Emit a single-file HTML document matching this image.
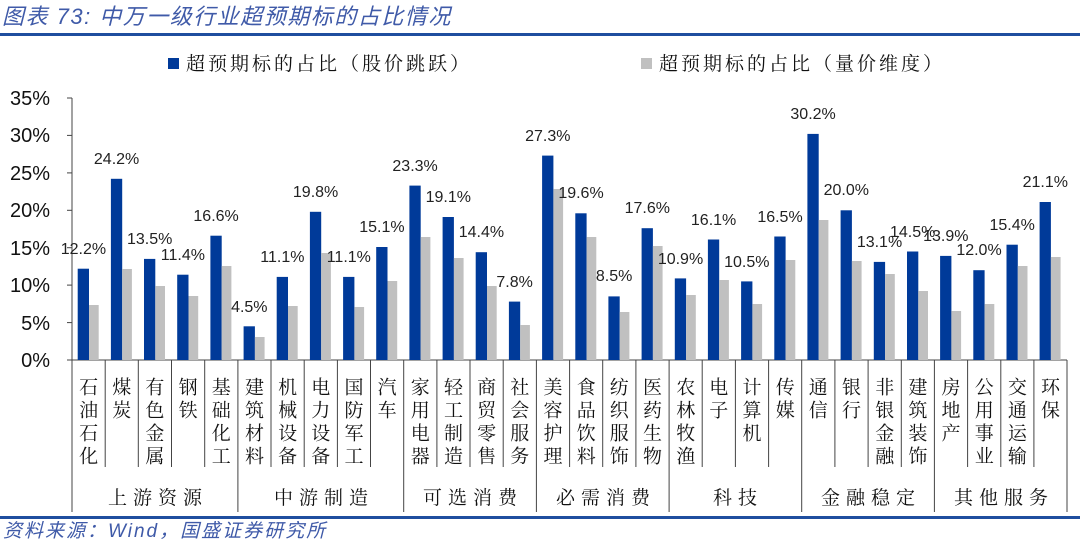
<!DOCTYPE html>
<html><head><meta charset="utf-8"><style>
html,body{margin:0;padding:0;background:#fff;}
svg{display:block;}
.t{font-family:"Liberation Sans","Noto Sans CJK SC",sans-serif;}
.v{font-family:"Liberation Sans",sans-serif;font-size:16px;fill:#222;text-anchor:middle;}
.c{font-family:"Noto Serif CJK SC","Liberation Serif",serif;font-size:19px;fill:#111;writing-mode:vertical-rl;letter-spacing:4px;}
.g{font-family:"Noto Serif CJK SC","Liberation Serif",serif;font-size:19px;fill:#111;text-anchor:middle;letter-spacing:6px;}
.y{font-family:"Liberation Sans",sans-serif;font-size:20px;fill:#111;text-anchor:end;}
</style></head><body>
<svg width="1080" height="544" viewBox="0 0 1080 544" xmlns="http://www.w3.org/2000/svg">
<text x="2" y="24" class="t" font-size="22" font-style="italic" fill="#3f5aa8" letter-spacing="1.5">图表 73:  中万一级行业超预期标的占比情况</text>
<rect x="0" y="33" width="1080" height="3" fill="#1f4e9f"/>
<rect x="0" y="516" width="1080" height="3" fill="#1f4e9f"/>
<text x="3" y="537" class="t" font-size="19" font-style="italic" fill="#3f5aa8" letter-spacing="2">资料来源：Wind，国盛证券研究所</text>
<rect x="168" y="58" width="11" height="11" fill="#003a99"/>
<text x="186" y="70" class="g" style="text-anchor:start;letter-spacing:3px" font-size="20">超预期标的占比（股价跳跃）</text>
<rect x="641" y="58" width="11" height="11" fill="#c0c0c0"/>
<text x="659" y="70" class="g" style="text-anchor:start;letter-spacing:3px" font-size="20">超预期标的占比（量价维度）</text>
<g stroke="#444" stroke-width="1">
<line x1="72" y1="98" x2="72" y2="512"/>
<line x1="67" y1="98" x2="72" y2="98"/><line x1="67" y1="135.4" x2="72" y2="135.4"/><line x1="67" y1="172.9" x2="72" y2="172.9"/><line x1="67" y1="210.3" x2="72" y2="210.3"/><line x1="67" y1="247.7" x2="72" y2="247.7"/><line x1="67" y1="285.1" x2="72" y2="285.1"/><line x1="67" y1="322.6" x2="72" y2="322.6"/><line x1="67" y1="360" x2="72" y2="360"/>
<line x1="72" y1="360" x2="1067" y2="360"/>
<line x1="1067" y1="360" x2="1067" y2="512"/>
</g>
<g class="y">
<text x="50" y="105">35%</text><text x="50" y="142">30%</text><text x="50" y="180">25%</text><text x="50" y="217">20%</text><text x="50" y="255">15%</text><text x="50" y="292">10%</text><text x="50" y="330">5%</text><text x="50" y="367">0%</text>
</g>
<g fill="#003a99">
<rect x="77.7" y="268.7" width="11.3" height="91.3"/>
<rect x="110.9" y="178.8" width="11.3" height="181.2"/>
<rect x="144.0" y="258.9" width="11.3" height="101.1"/>
<rect x="177.2" y="274.7" width="11.3" height="85.3"/>
<rect x="210.4" y="235.7" width="11.3" height="124.3"/>
<rect x="243.6" y="326.3" width="11.3" height="33.7"/>
<rect x="276.7" y="276.9" width="11.3" height="83.1"/>
<rect x="309.9" y="211.8" width="11.3" height="148.2"/>
<rect x="343.1" y="276.9" width="11.3" height="83.1"/>
<rect x="376.2" y="247.0" width="11.3" height="113.0"/>
<rect x="409.4" y="185.6" width="11.3" height="174.4"/>
<rect x="442.6" y="217.0" width="11.3" height="143.0"/>
<rect x="475.7" y="252.2" width="11.3" height="107.8"/>
<rect x="508.9" y="301.6" width="11.3" height="58.4"/>
<rect x="542.1" y="155.6" width="11.3" height="204.4"/>
<rect x="575.3" y="213.3" width="11.3" height="146.7"/>
<rect x="608.4" y="296.4" width="11.3" height="63.6"/>
<rect x="641.6" y="228.2" width="11.3" height="131.8"/>
<rect x="674.8" y="278.4" width="11.3" height="81.6"/>
<rect x="707.9" y="239.5" width="11.3" height="120.5"/>
<rect x="741.1" y="281.4" width="11.3" height="78.6"/>
<rect x="774.3" y="236.5" width="11.3" height="123.5"/>
<rect x="807.4" y="133.9" width="11.3" height="226.1"/>
<rect x="840.6" y="210.3" width="11.3" height="149.7"/>
<rect x="873.8" y="261.9" width="11.3" height="98.1"/>
<rect x="907.0" y="251.5" width="11.3" height="108.5"/>
<rect x="940.1" y="255.9" width="11.3" height="104.1"/>
<rect x="973.3" y="270.2" width="11.3" height="89.8"/>
<rect x="1006.5" y="244.7" width="11.3" height="115.3"/>
<rect x="1039.6" y="202.0" width="11.3" height="158.0"/>
</g>
<g fill="#c0c0c0">
<rect x="89" y="305" width="9.7" height="55"/>
<rect x="122.2" y="269" width="9.7" height="91"/>
<rect x="155.3" y="286" width="9.7" height="74"/>
<rect x="188.5" y="296" width="9.7" height="64"/>
<rect x="221.7" y="266" width="9.7" height="94"/>
<rect x="254.9" y="337" width="9.7" height="23"/>
<rect x="288.0" y="306" width="9.7" height="54"/>
<rect x="321.2" y="253" width="9.7" height="107"/>
<rect x="354.4" y="307" width="9.7" height="53"/>
<rect x="387.5" y="281" width="9.7" height="79"/>
<rect x="420.7" y="237" width="9.7" height="123"/>
<rect x="453.9" y="258" width="9.7" height="102"/>
<rect x="487.0" y="286" width="9.7" height="74"/>
<rect x="520.2" y="325" width="9.7" height="35"/>
<rect x="553.4" y="189" width="9.7" height="171"/>
<rect x="586.6" y="237" width="9.7" height="123"/>
<rect x="619.7" y="312" width="9.7" height="48"/>
<rect x="652.9" y="246" width="9.7" height="114"/>
<rect x="686.1" y="295" width="9.7" height="65"/>
<rect x="719.2" y="280" width="9.7" height="80"/>
<rect x="752.4" y="304" width="9.7" height="56"/>
<rect x="785.6" y="260" width="9.7" height="100"/>
<rect x="818.7" y="220" width="9.7" height="140"/>
<rect x="851.9" y="261" width="9.7" height="99"/>
<rect x="885.1" y="274" width="9.7" height="86"/>
<rect x="918.3" y="291" width="9.7" height="69"/>
<rect x="951.4" y="311" width="9.7" height="49"/>
<rect x="984.6" y="304" width="9.7" height="56"/>
<rect x="1017.8" y="266" width="9.7" height="94"/>
<rect x="1050.9" y="257" width="9.7" height="103"/>
</g>
<g class="v">
<text x="83.4" y="254">12.2%</text>
<text x="116.6" y="164">24.2%</text>
<text x="149.7" y="244">13.5%</text>
<text x="182.9" y="260">11.4%</text>
<text x="216.1" y="221">16.6%</text>
<text x="249.3" y="312">4.5%</text>
<text x="282.4" y="262">11.1%</text>
<text x="315.6" y="197">19.8%</text>
<text x="348.8" y="262">11.1%</text>
<text x="381.9" y="232">15.1%</text>
<text x="415.1" y="171">23.3%</text>
<text x="448.3" y="202">19.1%</text>
<text x="481.4" y="237">14.4%</text>
<text x="514.6" y="287">7.8%</text>
<text x="547.8" y="141">27.3%</text>
<text x="581.0" y="198">19.6%</text>
<text x="614.1" y="281">8.5%</text>
<text x="647.3" y="213">17.6%</text>
<text x="680.5" y="264">10.9%</text>
<text x="713.6" y="225">16.1%</text>
<text x="746.8" y="267">10.5%</text>
<text x="780.0" y="222">16.5%</text>
<text x="813.1" y="119">30.2%</text>
<text x="846.3" y="195">20.0%</text>
<text x="879.5" y="247">13.1%</text>
<text x="912.7" y="237">14.5%</text>
<text x="945.8" y="241">13.9%</text>
<text x="979.0" y="255">12.0%</text>
<text x="1012.2" y="230">15.4%</text>
<text x="1045.3" y="187">21.1%</text>
</g>
<g stroke="#444" stroke-width="1">
<line x1="105.2" y1="360" x2="105.2" y2="467"/><line x1="138.3" y1="360" x2="138.3" y2="467"/><line x1="171.5" y1="360" x2="171.5" y2="467"/><line x1="204.7" y1="360" x2="204.7" y2="467"/>
<line x1="237.9" y1="360" x2="237.9" y2="512"/>
<line x1="271.0" y1="360" x2="271.0" y2="467"/><line x1="304.2" y1="360" x2="304.2" y2="467"/><line x1="337.4" y1="360" x2="337.4" y2="467"/><line x1="370.5" y1="360" x2="370.5" y2="467"/>
<line x1="403.7" y1="360" x2="403.7" y2="512"/>
<line x1="436.9" y1="360" x2="436.9" y2="467"/><line x1="470.0" y1="360" x2="470.0" y2="467"/><line x1="503.2" y1="360" x2="503.2" y2="467"/>
<line x1="536.4" y1="360" x2="536.4" y2="512"/>
<line x1="569.6" y1="360" x2="569.6" y2="467"/><line x1="602.7" y1="360" x2="602.7" y2="467"/><line x1="635.9" y1="360" x2="635.9" y2="467"/>
<line x1="669.1" y1="360" x2="669.1" y2="512"/>
<line x1="702.2" y1="360" x2="702.2" y2="467"/><line x1="735.4" y1="360" x2="735.4" y2="467"/><line x1="768.6" y1="360" x2="768.6" y2="467"/>
<line x1="801.7" y1="360" x2="801.7" y2="512"/>
<line x1="834.9" y1="360" x2="834.9" y2="467"/><line x1="868.1" y1="360" x2="868.1" y2="467"/><line x1="901.3" y1="360" x2="901.3" y2="467"/>
<line x1="934.4" y1="360" x2="934.4" y2="512"/>
<line x1="967.6" y1="360" x2="967.6" y2="467"/><line x1="1000.8" y1="360" x2="1000.8" y2="467"/><line x1="1033.9" y1="360" x2="1033.9" y2="467"/>
</g>
<g class="c">
<text x="88.6" y="377">石油石化</text>
<text x="121.8" y="377">煤炭</text>
<text x="154.9" y="377">有色金属</text>
<text x="188.1" y="377">钢铁</text>
<text x="221.3" y="377">基础化工</text>
<text x="254.5" y="377">建筑材料</text>
<text x="287.6" y="377">机械设备</text>
<text x="320.8" y="377">电力设备</text>
<text x="354.0" y="377">国防军工</text>
<text x="387.1" y="377">汽车</text>
<text x="420.3" y="377">家用电器</text>
<text x="453.5" y="377">轻工制造</text>
<text x="486.6" y="377">商贸零售</text>
<text x="519.8" y="377">社会服务</text>
<text x="553.0" y="377">美容护理</text>
<text x="586.2" y="377">食品饮料</text>
<text x="619.3" y="377">纺织服饰</text>
<text x="652.5" y="377">医药生物</text>
<text x="685.7" y="377">农林牧渔</text>
<text x="718.8" y="377">电子</text>
<text x="752.0" y="377">计算机</text>
<text x="785.2" y="377">传媒</text>
<text x="818.3" y="377">通信</text>
<text x="851.5" y="377">银行</text>
<text x="884.7" y="377">非银金融</text>
<text x="917.9" y="377">建筑装饰</text>
<text x="951.0" y="377">房地产</text>
<text x="984.2" y="377">公用事业</text>
<text x="1017.4" y="377">交通运输</text>
<text x="1050.5" y="377">环保</text>
</g>
<g class="g">
<text x="158" y="504">上游资源</text>
<text x="324" y="504">中游制造</text>
<text x="473" y="504">可选消费</text>
<text x="606" y="504">必需消费</text>
<text x="738" y="504">科技</text>
<text x="871" y="504">金融稳定</text>
<text x="1004" y="504">其他服务</text>
</g>
</svg>
</body></html>
